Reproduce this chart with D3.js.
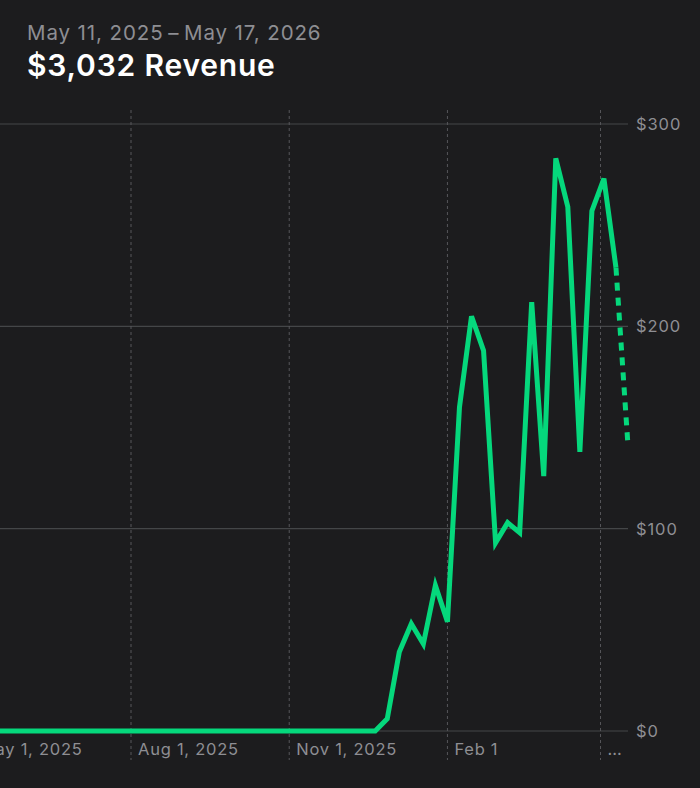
<!DOCTYPE html>
<html>
<head>
<meta charset="utf-8">
<script src="https://cdn.jsdelivr.net/npm/d3@7"></script>
<style>
  html, body { margin: 0; padding: 0; background: #1c1c1e; }
  svg { display: block; font-family: Inter, "Noto Sans", sans-serif; }
</style>
</head>
<body>
<div id="chart"></div>
<script>
// Weekly revenue, one point per week (Sundays), May 11 2025 – May 17 2026
const RANGE_LABEL = "May 11, 2025\u2009\u2013\u2009May 17, 2026";
const TITLE = "$3,032 Revenue";
const REVENUE = [
  0, 0, 0, 0, 0, 0, 0, 0, 0, 0,
  0, 0, 0, 0, 0, 0, 0, 0, 0, 0,
  0, 0, 0, 0, 0, 0, 0, 0, 0, 0,
  0, 0, 0, 6, 39, 53, 43, 72, 54, 160,
  205, 188, 93, 103, 98, 212, 126, 283, 259, 138,
  257, 273, 229, 141
];
const X_TICKS = ["2025-05-01", "2025-08-01", "2025-11-01", "2026-02-01", "2026-05-01"];
const X_TICK_LABELS = ["May 1, 2025", "Aug 1, 2025", "Nov 1, 2025", "Feb 1", "\u2026"];
const Y_TICKS = [0, 100, 200, 300];
const Y_TICK_LABELS = ["$0", "$100", "$200", "$300"];

const W = 700, H = 788;
const start = new Date(Date.UTC(2025, 4, 11));
const end = new Date(Date.UTC(2026, 4, 17));
const weeks = d3.utcSunday.range(start, d3.utcDay.offset(end, 1));
const points = weeks.map((d, i) => ({ date: d, value: REVENUE[i] }));

const svg = d3.select("#chart").append("svg")
  .attr("width", W).attr("height", H);

svg.append("rect").attr("width", W).attr("height", H).attr("fill", "#1c1c1e");

/* header */
svg.append("text").attr("x", 27).attr("y", 40)
  .attr("font-size", 20.5).attr("letter-spacing", 0.9).attr("fill", "#8e8e93")
  .text(RANGE_LABEL);
svg.append("text").attr("x", 27).attr("y", 76)
  .attr("font-size", 30).attr("font-weight", 600).attr("letter-spacing", 0.8)
  .attr("fill", "#ffffff")
  .text(TITLE);

/* scales */
const x = d3.scaleUtc().domain([start, end]).range([-10, 628]);
const y = d3.scaleLinear().domain([0, 300]).range([731, 124]);

/* horizontal grid + y labels */
const gy = svg.append("g");
gy.selectAll("line").data(Y_TICKS).join("line")
  .attr("x1", 0).attr("x2", 628)
  .attr("y1", d => y(d)).attr("y2", d => y(d))
  .attr("stroke", "#444648").attr("stroke-width", 1.2);
gy.selectAll("text").data(Y_TICKS).join("text")
  .attr("x", 636).attr("y", d => y(d)).attr("dy", "0.36em")
  .attr("font-size", 16.5).attr("letter-spacing", 0.9).attr("fill", "#8e8e93")
  .text((d, i) => Y_TICK_LABELS[i]);

/* vertical dashed grid + x labels */
const tickDates = X_TICKS.map(s => new Date(s + "T00:00:00Z"));
const gx = svg.append("g");
gx.selectAll("line").data(tickDates).join("line")
  .attr("x1", d => x(d)).attr("x2", d => x(d))
  .attr("y1", 110).attr("y2", 760)
  .attr("stroke", "#56565a").attr("stroke-width", 1)
  .attr("stroke-dasharray", "3 3");
gx.selectAll("text").data(tickDates).join("text")
  .attr("x", d => x(d) + 7).attr("y", 755)
  .attr("font-size", 16.5).attr("letter-spacing", 0.75).attr("fill", "#8e8e93")
  .text((d, i) => X_TICK_LABELS[i]);

/* revenue line: solid for complete weeks, dotted for the current one */
const line = d3.line().x(d => x(d.date)).y(d => y(d.value));
const GREEN = "#05d87c";
svg.append("path")
  .datum(points.slice(0, points.length - 1))
  .attr("d", line)
  .attr("fill", "none").attr("stroke", GREEN)
  .attr("stroke-width", 5).attr("stroke-linejoin", "miter");
svg.append("path")
  .datum(points.slice(points.length - 2))
  .attr("d", line)
  .attr("fill", "none").attr("stroke", GREEN)
  .attr("stroke-width", 5).attr("stroke-dasharray", "8 7");
</script>
</body>
</html>
